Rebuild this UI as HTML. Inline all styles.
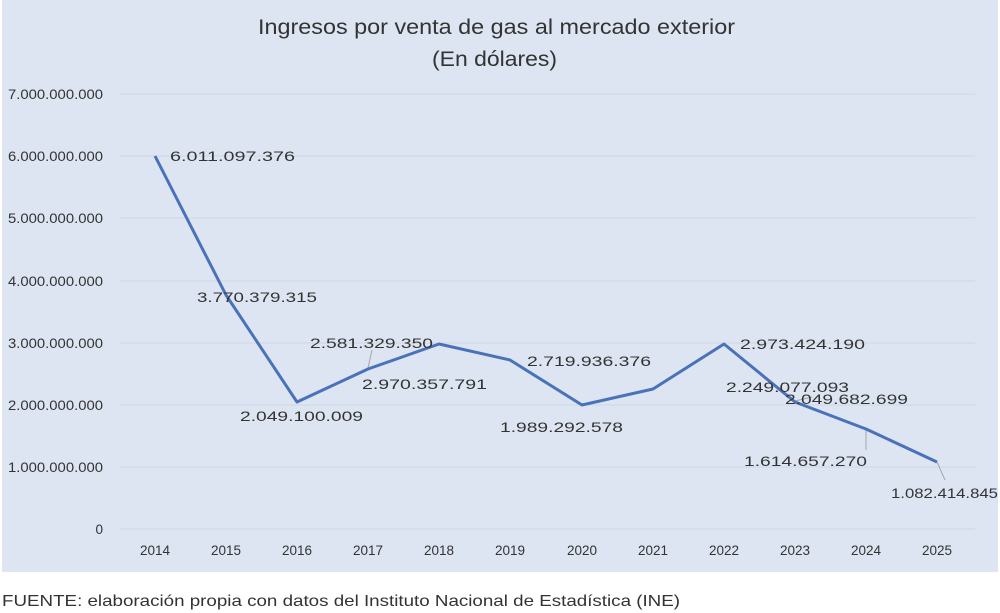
<!DOCTYPE html>
<html><head><meta charset="utf-8"><style>
html,body{margin:0;padding:0;background:#fff;width:1000px;height:613px;overflow:hidden}
svg{display:block}
text{font-family:"Liberation Sans",sans-serif;fill:#333}
</style></head><body>
<svg width="1000" height="613" viewBox="0 0 1000 613">
<rect x="2" y="0" width="996" height="572" fill="#dde5f2"/>
<text x="258" y="34" font-size="21" textLength="477" lengthAdjust="spacingAndGlyphs">Ingresos por venta de gas al mercado exterior</text>
<text x="432" y="66" font-size="21" textLength="125" lengthAdjust="spacingAndGlyphs">(En dólares)</text>
<g stroke="#cfd7e6" stroke-width="1">
<line x1="120" y1="94" x2="975" y2="94"/><line x1="120" y1="156" x2="975" y2="156"/>
<line x1="120" y1="218" x2="975" y2="218"/><line x1="120" y1="281" x2="975" y2="281"/>
<line x1="120" y1="343" x2="975" y2="343"/><line x1="120" y1="405" x2="975" y2="405"/>
<line x1="120" y1="467" x2="975" y2="467"/><line x1="120" y1="529" x2="975" y2="529"/>
</g>
<g font-size="13.5">
<text x="8" y="99" textLength="95" lengthAdjust="spacingAndGlyphs">7.000.000.000</text>
<text x="8" y="161" textLength="95" lengthAdjust="spacingAndGlyphs">6.000.000.000</text>
<text x="8" y="223" textLength="95" lengthAdjust="spacingAndGlyphs">5.000.000.000</text>
<text x="8" y="286" textLength="95" lengthAdjust="spacingAndGlyphs">4.000.000.000</text>
<text x="8" y="348" textLength="95" lengthAdjust="spacingAndGlyphs">3.000.000.000</text>
<text x="8" y="410" textLength="95" lengthAdjust="spacingAndGlyphs">2.000.000.000</text>
<text x="8" y="472" textLength="95" lengthAdjust="spacingAndGlyphs">1.000.000.000</text>
<text x="103" y="534" text-anchor="end">0</text>
</g>
<g font-size="13.5" text-anchor="middle">
<text x="155" y="555">2014</text><text x="226" y="555">2015</text><text x="297" y="555">2016</text>
<text x="368" y="555">2017</text><text x="439" y="555">2018</text><text x="510" y="555">2019</text>
<text x="582" y="555">2020</text><text x="653" y="555">2021</text><text x="724" y="555">2022</text>
<text x="795" y="555">2023</text><text x="866" y="555">2024</text><text x="937" y="555">2025</text>
</g>
<g stroke="#a6a6a6" stroke-width="1">
<line x1="368" y1="368" x2="372" y2="350"/>
<line x1="795" y1="401" x2="812" y2="397"/>
<line x1="866" y1="429" x2="866" y2="450"/>
<line x1="937" y1="462" x2="945" y2="480"/>
</g>
<polyline fill="none" stroke="#4a72b8" stroke-width="3" stroke-linejoin="round" points="155,156 226,295 297,402 368,369 439,344 510,360 582,405 653,389 724,344 795,402 866,429 937,462"/>
<g font-size="13.5">
<text x="170" y="161" textLength="125" lengthAdjust="spacingAndGlyphs">6.011.097.376</text>
<text x="197" y="302" textLength="120" lengthAdjust="spacingAndGlyphs">3.770.379.315</text>
<text x="240" y="421" textLength="123" lengthAdjust="spacingAndGlyphs">2.049.100.009</text>
<text x="310" y="348" textLength="123" lengthAdjust="spacingAndGlyphs">2.581.329.350</text>
<text x="362" y="389" textLength="125" lengthAdjust="spacingAndGlyphs">2.970.357.791</text>
<text x="527" y="366" textLength="124" lengthAdjust="spacingAndGlyphs">2.719.936.376</text>
<text x="500" y="432" textLength="123" lengthAdjust="spacingAndGlyphs">1.989.292.578</text>
<text x="726" y="392" textLength="123" lengthAdjust="spacingAndGlyphs">2.249.077.093</text>
<text x="740" y="349" textLength="125" lengthAdjust="spacingAndGlyphs">2.973.424.190</text>
<text x="785" y="404" textLength="123" lengthAdjust="spacingAndGlyphs">2.049.682.699</text>
<text x="744" y="466" textLength="123" lengthAdjust="spacingAndGlyphs">1.614.657.270</text>
<text x="891" y="498" textLength="107" lengthAdjust="spacingAndGlyphs">1.082.414.845</text>
</g>
<text x="2" y="606" font-size="16" textLength="678" lengthAdjust="spacingAndGlyphs">FUENTE: elaboración propia con datos del Instituto Nacional de Estadística (INE)</text>
</svg>
</body></html>
